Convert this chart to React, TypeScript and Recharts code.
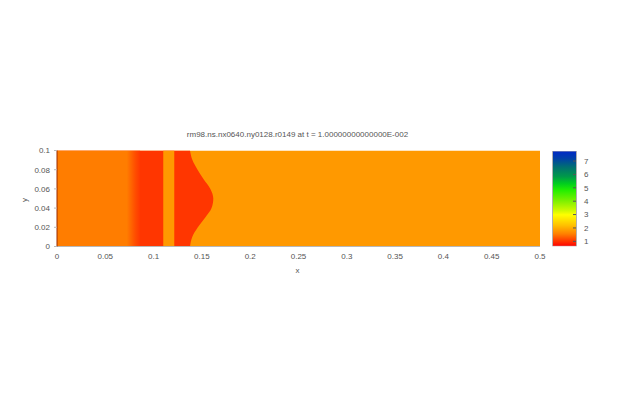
import React from 'react';
import { ComposedChart, BarChart, Area, Bar, XAxis, YAxis } from 'recharts';

const TITLE = 'rm98.ns.nx0640.ny0128.r0149 at t = 1.00000000000000E-002';

// sampled heights of the field
const yLevels = [0, 0.01, 0.02, 0.03, 0.04, 0.05, 0.06, 0.07, 0.08, 0.09, 0.1];
// x of the curved red front at each height
const frontX = [0.1377, 0.14, 0.1458, 0.1533, 0.16, 0.1618, 0.1588, 0.1518, 0.1455, 0.1402, 0.1377];
const domainX = [0, 0.5];
const domainY = [0, 0.1];
const leftBandEnd = 0.086;
const stripe = [0.11, 0.1214];

const xTicks = [0, 0.05, 0.1, 0.15, 0.2, 0.25, 0.3, 0.35, 0.4, 0.45, 0.5];
const yTicks = [0, 0.02, 0.04, 0.06, 0.08, 0.1];

const cbarDomain = [0.63, 7.75];
const cbarTicks = [1, 2, 3, 4, 5, 6, 7];

const FONT = '"Liberation Sans", Arial, sans-serif';
const tickStyle = { fontSize: 8, fill: '#555', fontFamily: FONT };

const field = yLevels.map((y, i) => ({
  y,
  bg: domainX[1],
  front: frontX[i],
  stripe,
  left: leftBandEnd,
}));

const cbarData = [{ name: 'v', v: cbarDomain[1] }];

const XLabel = (props: any) => {
  const vb = props.viewBox;
  return (
    <text x={vb.x + vb.width / 2 - 1} y={vb.y + 23.5} textAnchor="middle" dominantBaseline="central" style={tickStyle}>
      x
    </text>
  );
};

const YLabel = (props: any) => {
  const vb = props.viewBox;
  const x = vb.x + 17;
  const y = vb.y + vb.height / 2 + 1.5;
  return (
    <text x={x} y={y} transform={`rotate(-90, ${x}, ${y})`} textAnchor="middle" dominantBaseline="central" style={tickStyle}>
      y
    </text>
  );
};

export default function App() {
  return (
    <div style={{ position: 'relative', width: 640, height: 400, background: '#fff' }}>
      <style>{'body{margin:0}'}</style>
      <div
        style={{
          position: 'absolute',
          top: 130,
          left: 0,
          width: 595,
          textAlign: 'center',
          fontSize: 8,
          lineHeight: '10px',
          color: '#555',
          fontFamily: FONT,
          whiteSpace: 'nowrap',
        }}
      >
        {TITLE}
      </div>
      <div style={{ position: 'absolute', top: 0, left: 0 }}>
        <ComposedChart
          layout="vertical"
          width={640}
          height={400}
          data={field}
          margin={{ top: 150.5, right: 100, bottom: 123.5, left: 7 }}
        >
          <defs>
            <linearGradient id="leftBand" x1="0" y1="0" x2="1" y2="0">
              <stop offset="0%" stopColor="#ff7d00" />
              <stop offset="84%" stopColor="#ff7d00" />
              <stop offset="89%" stopColor="#ff6600" />
              <stop offset="94%" stopColor="#ff4e00" />
              <stop offset="100%" stopColor="#ff3800" />
            </linearGradient>
          </defs>
          <XAxis
            type="number"
            domain={domainX}
            allowDataOverflow
            ticks={xTicks}
            interval={0}
            tickLine={false}
            tickSize={0}
            tickMargin={6.5}
            height={30}
            axisLine={{ stroke: '#b8b8b8' }}
            tick={tickStyle}
            label={XLabel}
          />
          <XAxis
            xAxisId="top"
            orientation="top"
            type="number"
            domain={domainX}
            allowDataOverflow
            height={0}
            tick={false}
            tickLine={false}
            axisLine={{ stroke: '#b0b0b0' }}
          />
          <YAxis
            type="number"
            dataKey="y"
            domain={domainY}
            reversed
            allowDataOverflow
            ticks={yTicks}
            interval={0}
            width={50}
            tickSize={3}
            tickMargin={4}
            tickLine={{ stroke: '#bbb' }}
            axisLine={{ stroke: '#9a2a00' }}
            tick={tickStyle}
            label={YLabel}
          />
          <YAxis
            yAxisId="r"
            orientation="right"
            type="number"
            dataKey="y"
            domain={domainY}
            reversed
            allowDataOverflow
            width={0}
            tick={false}
            tickLine={false}
            axisLine={{ stroke: '#a85200' }}
          />
          <Area dataKey="bg" type="linear" fill="#ff9900" fillOpacity={1} stroke="none" isAnimationActive={false} />
          <Area dataKey="front" type="monotone" fill="#ff3600" fillOpacity={1} stroke="none" isAnimationActive={false} />
          <Area dataKey="stripe" type="linear" fill="#ff9900" fillOpacity={1} stroke="none" isAnimationActive={false} />
          <Area dataKey="left" type="linear" fill="url(#leftBand)" fillOpacity={1} stroke="none" isAnimationActive={false} />
        </ComposedChart>
      </div>
      <div style={{ position: 'absolute', top: 0, left: 0 }}>
        <BarChart
          width={640}
          height={400}
          data={cbarData}
          margin={{ top: 151, right: 24, bottom: 153.7, left: 552.5 }}
          barCategoryGap={0}
        >
          <defs>
            <linearGradient id="cbar" x1="0" y1="0" x2="0" y2="1">
              <stop offset="0%" stopColor="#0028c8" />
              <stop offset="8%" stopColor="#0040a8" />
              <stop offset="17%" stopColor="#007070" />
              <stop offset="27%" stopColor="#009a48" />
              <stop offset="34%" stopColor="#00cc20" />
              <stop offset="41%" stopColor="#22ee00" />
              <stop offset="52%" stopColor="#7af000" />
              <stop offset="62%" stopColor="#ccf800" />
              <stop offset="67%" stopColor="#ffff00" />
              <stop offset="78%" stopColor="#ffc000" />
              <stop offset="87%" stopColor="#ff8000" />
              <stop offset="100%" stopColor="#ff0000" />
            </linearGradient>
          </defs>
          <XAxis dataKey="name" hide />
          <YAxis
            orientation="right"
            type="number"
            domain={cbarDomain}
            allowDataOverflow
            ticks={cbarTicks}
            interval={0}
            width={40}
            axisLine={false}
            tickSize={-3}
            tickMargin={11}
            tickLine={{ stroke: '#555' }}
            tick={{ ...tickStyle, textAnchor: 'start' }}
          />
          <Bar dataKey="v" fill="url(#cbar)" stroke="#b0b0b0" isAnimationActive={false} />
        </BarChart>
      </div>
    </div>
  );
}
